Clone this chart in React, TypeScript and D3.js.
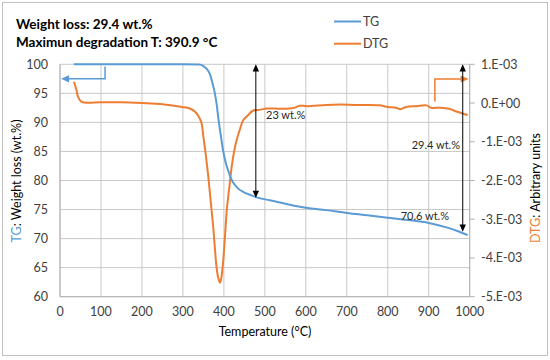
import React from "react";
import * as d3 from "d3";

const tgTemp = [34, 100, 200, 300, 340, 350, 358, 366, 372, 378, 383, 386, 392, 398, 404, 411, 417, 423, 435, 448, 465, 480, 512, 550, 600, 650, 700, 750, 800, 850, 900, 950, 970, 995];
const tgVal = [100, 100, 100, 100, 99.95, 99.7, 99.2, 98.3, 96.8, 95.0, 92.8, 91.0, 88.0, 85.2, 83.2, 81.6, 80.4, 79.6, 78.6, 78.0, 77.5, 77.1, 76.6, 76.0, 75.3, 74.9, 74.4, 74.0, 73.6, 73.2, 72.7, 71.8, 71.3, 70.6];

const dtgTemp = [34, 40, 44, 53, 100, 150, 200, 250, 297, 317, 329, 337, 345, 350, 356, 362, 368, 374, 382, 386, 390.5, 394, 398.5, 403, 407, 413, 419, 425, 431, 440, 447.5, 460, 471, 490, 504, 540, 570, 585, 603, 650, 685, 720, 748, 780, 800, 820, 830, 845, 870, 895, 905, 930, 950, 968, 988, 995];
const dtgVal = [0.55, 0.35, 0.16, 0.03, 0.02, 0.02, 0.0, -0.03, -0.1, -0.14, -0.22, -0.32, -0.5, -0.87, -1.35, -1.9, -2.55, -3.2, -4.23, -4.5, -4.64, -4.5, -4.06, -3.4, -2.77, -2.2, -1.65, -1.25, -0.96, -0.65, -0.44, -0.3, -0.2, -0.17, -0.14, -0.15, -0.13, -0.07, -0.08, -0.05, -0.04, -0.05, -0.05, -0.06, -0.1, -0.12, -0.16, -0.1, -0.08, -0.06, -0.12, -0.12, -0.15, -0.22, -0.29, -0.31];

const xTicks = [0, 100, 200, 300, 400, 500, 600, 700, 800, 900, 1000];
const yLeftTicks = [60, 65, 70, 75, 80, 85, 90, 95, 100];
const yRightTicks = [1, 0, -1, -2, -3, -4, -5];
const yRightLabels = ["1.E-03", "0.E+00", "-1.E-03", "-2.E-03", "-3.E-03", "-4.E-03", "-5.E-03"];

const titleLines = ["Weight loss: 29.4 wt.%", "Maximun degradation T: 390.9 °C"];
const seriesNames = ["TG", "DTG"];

const BLUE = "#5B9BD5";
const ORANGE = "#ED7D31";
const FONT = "Lato, 'Open Sans', sans-serif";

export default function App() {
  const L = 60, R = 469.7, T = 64.3, B = 296.7;
  const x = d3.scaleLinear().domain([0, 1000]).range([L, R]);
  const yL = d3.scaleLinear().domain([60, 100]).range([B, T]);
  const yR = d3.scaleLinear().domain([-5, 1]).range([B, T]);

  const tgLine = d3.line<number>().x((_, i) => x(tgTemp[i])).y((v) => yL(v)).curve(d3.curveMonotoneX);
  const dtgLine = d3.line<number>().x((_, i) => x(dtgTemp[i])).y((v) => yR(v)).curve(d3.curveCatmullRom.alpha(0.5));

  const arrowHead = (px: number, py: number, dir: "up" | "down" | "left" | "right", color: string, size = 5) => {
    let pts: number[][] = [];
    if (dir === "up") pts = [[px, py], [px - size * 0.8, py + size * 1.8], [px + size * 0.8, py + size * 1.8]];
    if (dir === "down") pts = [[px, py], [px - size * 0.8, py - size * 1.8], [px + size * 0.8, py - size * 1.8]];
    if (dir === "left") pts = [[px, py], [px + size * 1.8, py - size * 0.8], [px + size * 1.8, py + size * 0.8]];
    if (dir === "right") pts = [[px, py], [px - size * 1.8, py - size * 0.8], [px - size * 1.8, py + size * 0.8]];
    return <polygon points={pts.map((p) => p.join(",")).join(" ")} fill={color} />;
  };

  const a1x = x(478), a2x = x(983);

  return (
    <svg width={550} height={360} style={{ position: "absolute", left: 0, top: 0 }} fontFamily={FONT}>
      <rect x={0} y={0} width={550} height={360} fill="#fff" />
      <rect x={2.5} y={2.5} width={545} height={353} fill="none" stroke="#bfbfbf" />

      {/* title */}
      {titleLines.map((t, i) => (
        <text key={i} x={16} y={28.5 + i * 18} fontSize={13.5} fontWeight="bold" fill="#000">{t}</text>
      ))}

      {/* legend */}
      <line x1={334} x2={361} y1={21.5} y2={21.5} stroke={BLUE} strokeWidth={2} />
      <text x={363} y={26} fontSize={12.5} fill="#404040">{seriesNames[0]}</text>
      <line x1={334} x2={361} y1={43.7} y2={43.7} stroke={ORANGE} strokeWidth={2} />
      <text x={363} y={48} fontSize={12.5} fill="#404040">{seriesNames[1]}</text>

      {/* grid */}
      {xTicks.map((t) => (
        <line key={"gx" + t} x1={x(t)} x2={x(t)} y1={T} y2={B} stroke="#c8c8c8" />
      ))}
      {yLeftTicks.map((t) => (
        <line key={"gy" + t} x1={L} x2={R} y1={yL(t)} y2={yL(t)} stroke="#c8c8c8" />
      ))}
      <line x1={L} x2={L} y1={T} y2={B} stroke="#b0b0b0" />
      <line x1={L} x2={R} y1={B} y2={B} stroke="#b0b0b0" />
      <line x1={R} x2={R} y1={T} y2={B} stroke="#b0b0b0" />
      {yRightTicks.map((t) => (
        <line key={"rt" + t} x1={R} x2={R + 5} y1={yR(t)} y2={yR(t)} stroke="#b0b0b0" />
      ))}

      {/* tick labels */}
      {xTicks.map((t) => (
        <text key={"xl" + t} x={x(t)} y={315.5} fontSize={12.5} textAnchor="middle" fill="#404040">{t}</text>
      ))}
      {yLeftTicks.map((t) => (
        <text key={"yl" + t} x={48} y={yL(t) + 4.5} fontSize={12.5} textAnchor="end" fill="#404040">{t}</text>
      ))}
      {yRightTicks.map((t, i) => (
        <text key={"yr" + t} x={481} y={yR(t) + 4.5} fontSize={12.5} textAnchor="start" fill="#404040">{yRightLabels[i]}</text>
      ))}

      {/* axis titles */}
      <text x={265} y={335.5} fontSize={12.5} textAnchor="middle" fill="#000">Temperature (°C)</text>
      <text transform="translate(21,181) rotate(-90)" fontSize={12.5} textAnchor="middle" fill="#000">
        <tspan fill={BLUE}>TG</tspan>: Weight loss (wt.%)
      </text>
      <text transform="translate(540,188) rotate(-90)" fontSize={12.5} textAnchor="middle" fill="#000">
        <tspan fill={ORANGE}>DTG</tspan>: Arbitrary units
      </text>

      {/* series */}
      <path d={dtgLine(dtgVal) || ""} fill="none" stroke={ORANGE} strokeWidth={2} />
      <path d={tgLine(tgVal) || ""} fill="none" stroke={BLUE} strokeWidth={2} />

      {/* callout arrows */}
      <polyline points={`${x(110)},${yL(99.6)} ${x(110)},${yL(97.5)} ${L + 8},${yL(97.5)}`} fill="none" stroke={BLUE} strokeWidth={1.5} />
      {arrowHead(L + 1, yL(97.5), "left", BLUE, 4.5)}
      <polyline points={`${x(915)},${yR(0.04)} ${x(915)},${yR(0.62)} ${R - 6},${yR(0.62)}`} fill="none" stroke={ORANGE} strokeWidth={1.5} />
      {arrowHead(R - 1, yR(0.62), "right", ORANGE, 4.5)}

      {/* measurement arrows */}
      <line x1={a1x} x2={a1x} y1={T + 6} y2={yL(77.1) - 6} stroke="#000" strokeWidth={1} />
      {arrowHead(a1x, T, "up", "#000", 4)}
      {arrowHead(a1x, yL(77.1) + 0.5, "down", "#000", 4)}
      <text x={266} y={119} fontSize={11} fill="#262626">23 wt.%</text>

      <line x1={a2x} x2={a2x} y1={T + 6} y2={yL(71.2) - 6} stroke="#000" strokeWidth={1} />
      {arrowHead(a2x, T, "up", "#000", 4)}
      {arrowHead(a2x, yL(71.2), "down", "#000", 4)}
      <text x={460} y={149} fontSize={11} textAnchor="end" fill="#262626">29.4 wt.%</text>
      <text x={449} y={220} fontSize={11} textAnchor="end" fill="#262626">70.6 wt.%</text>
    </svg>
  );
}
